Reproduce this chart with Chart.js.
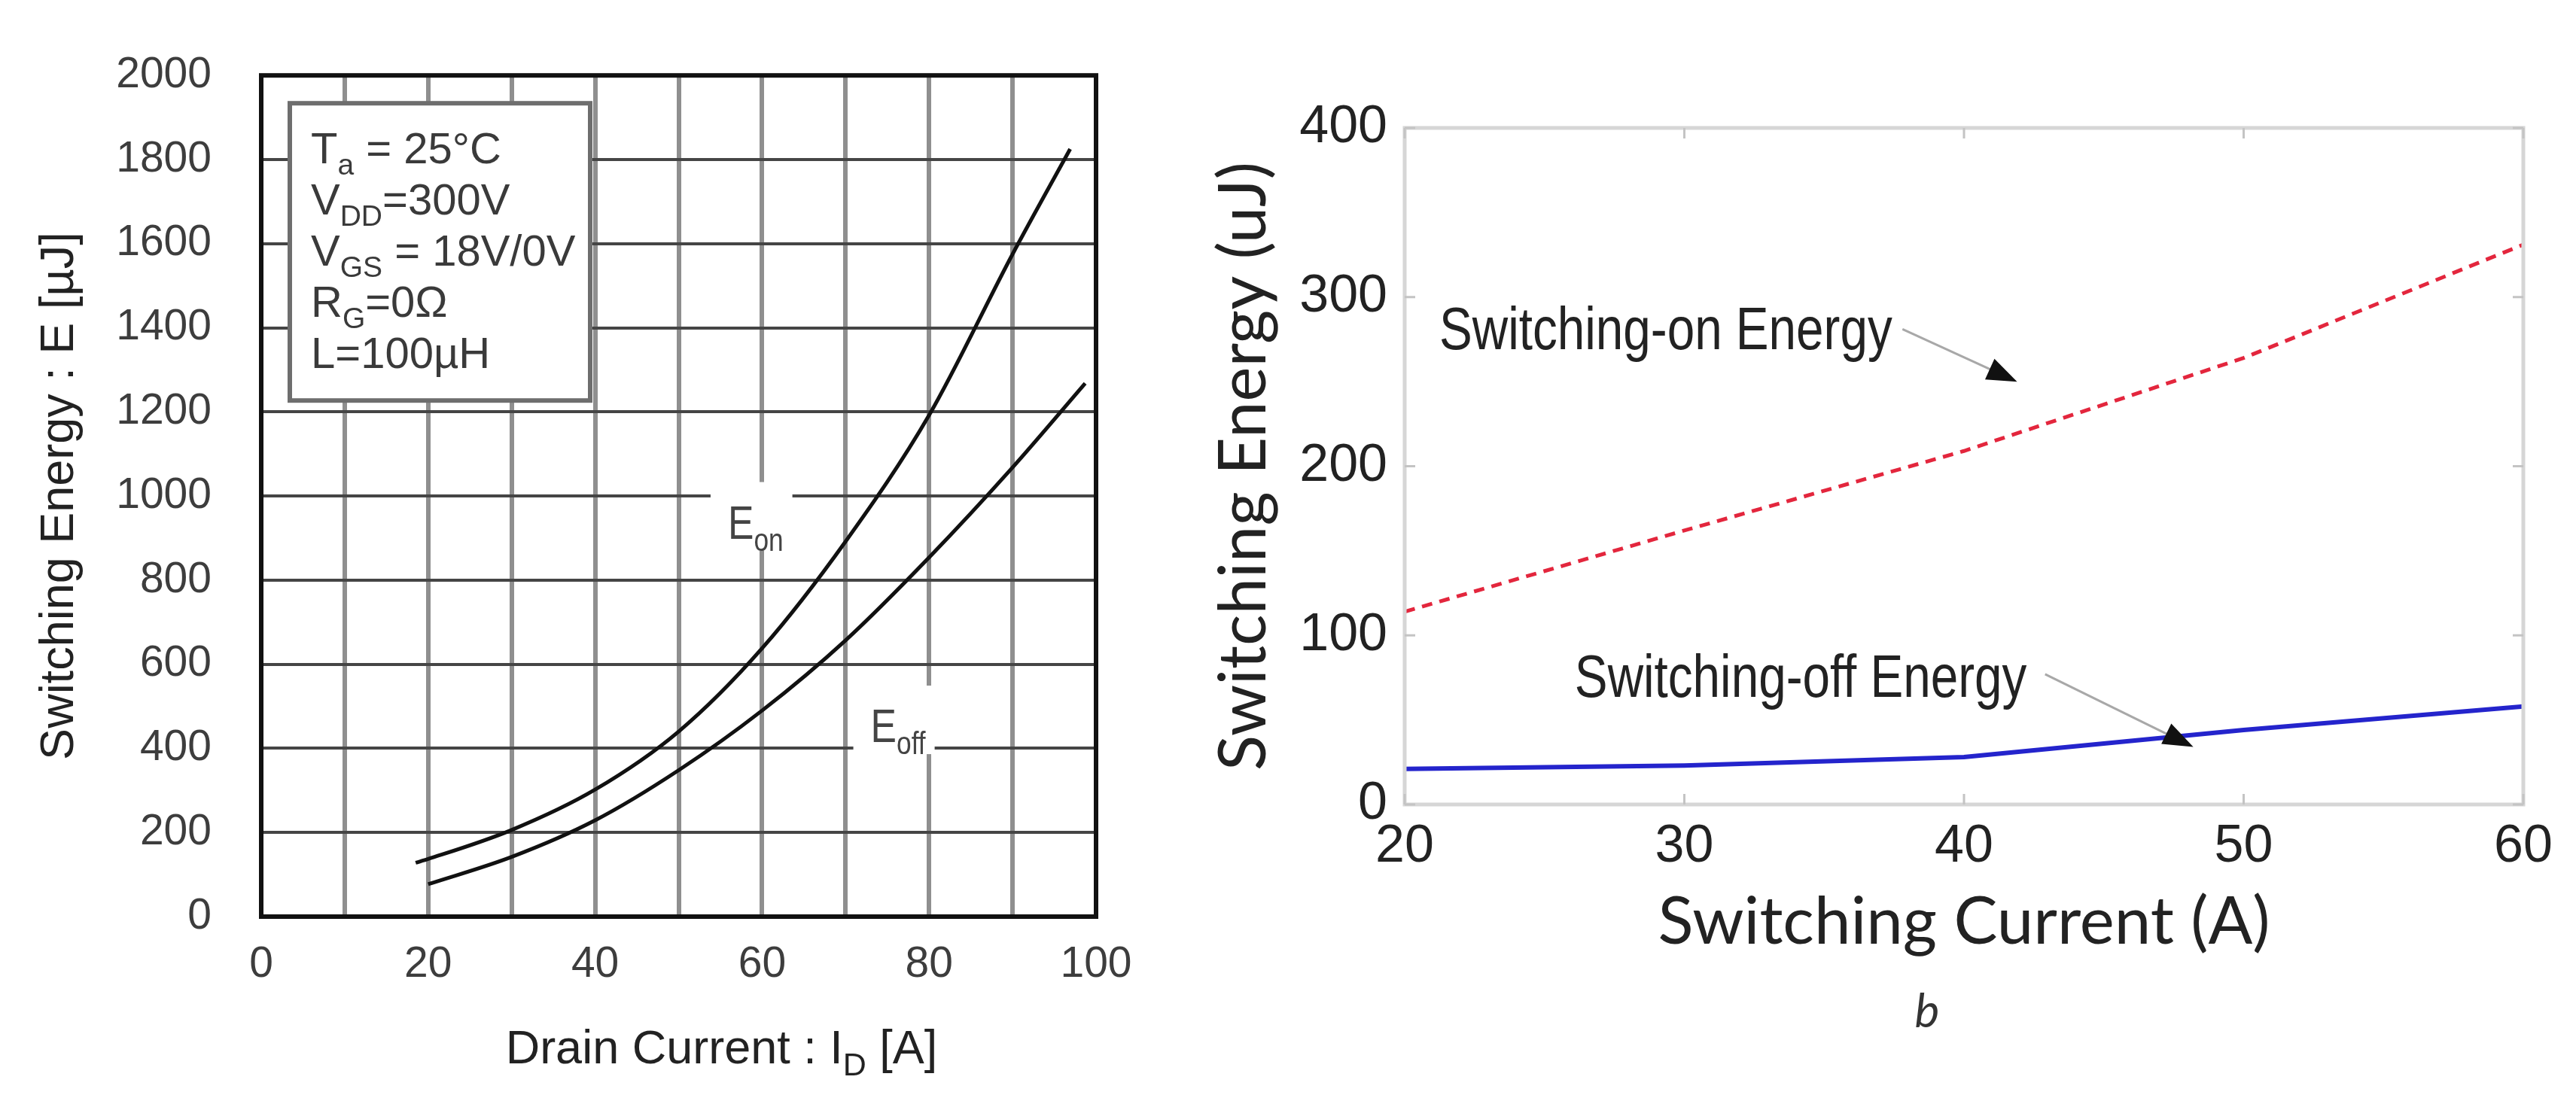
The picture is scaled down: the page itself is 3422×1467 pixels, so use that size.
<!DOCTYPE html>
<html>
<head>
<meta charset="utf-8">
<script src="https://cdn.jsdelivr.net/npm/chart.js@4.4.1/dist/chart.umd.min.js"></script>
<style>
  html, body { margin: 0; padding: 0; background: #fff; }
  body { width: 3422px; height: 1467px; position: relative; overflow: hidden; }
  .panel { position: absolute; top: 0; height: 1467px; }
  #leftPanel { left: 0; width: 1600px; }
  #rightPanel { left: 1560px; width: 1862px; }
</style>
</head>
<body>
<div class="panel" id="leftPanel"><canvas id="leftChart"></canvas></div>
<div class="panel" id="rightPanel"><canvas id="rightChart"></canvas></div>
<script>
'use strict';

// left panel - datasheet curves (Drain current vs switching energy)
var onCurrent = [18.5, 20, 30, 40, 50, 60, 70, 80, 90, 96.9];
var onEnergy = [128, 137, 206, 302, 440, 638, 892, 1192, 1575, 1825];
var offCurrent = [20, 30, 40, 50, 60, 70, 80, 90, 98.7];
var offEnergy = [77, 142, 229, 348, 490, 657, 854, 1068, 1268];
var leftXTicks = [0, 20, 40, 60, 80, 100];
var leftYTicks = [0, 200, 400, 600, 800, 1000, 1200, 1400, 1600, 1800, 2000];

// right panel - simulated switching energy
var switchCurrent = [20, 30, 40, 50, 60];
var switchOnEnergy = [114, 162, 209, 264, 331];
var switchOffEnergy = [21, 23, 28, 44, 58];
var rightXTicks = [20, 30, 40, 50, 60];
var rightYTicks = [0, 100, 200, 300, 400];

var SANS = "'Liberation Sans', Arial, sans-serif";
var HUMAN = "Lato, 'Open Sans', sans-serif";

function toPoints(xs, ys) {
    return xs.map(function(x, i) { return {x: x, y: ys[i]}; });
}

// text with subscripts: parts = [[text, isSub], ...]
function richWidth(ctx, parts, size, family) {
    var w = 0;
    parts.forEach(function(p) {
        ctx.font = (p[1] ? Math.round(size * 0.68) : size) + 'px ' + family;
        w += ctx.measureText(p[0]).width;
    });
    return w;
}
function richText(ctx, parts, x, y, size, family, color) {
    ctx.save();
    ctx.fillStyle = color;
    ctx.textAlign = 'left';
    ctx.textBaseline = 'alphabetic';
    var cx = x;
    parts.forEach(function(p) {
        var s = p[1] ? Math.round(size * 0.68) : size;
        ctx.font = s + 'px ' + family;
        ctx.fillText(p[0], cx, p[1] ? y + size * 0.26 : y);
        cx += ctx.measureText(p[0]).width;
    });
    ctx.restore();
    return cx - x;
}

var conditions = [
    [['T'], ['a', true], [' = 25°C']],
    [['V'], ['DD', true], ['=300V']],
    [['V'], ['GS', true], [' = 18V/0V']],
    [['R'], ['G', true], ['=0Ω']],
    [['L=100µH']]
];

var leftDecor = {
    id: 'leftDecor',
    beforeDatasetsDraw: function(chart) {
        var ctx = chart.ctx, ca = chart.chartArea;
        var xs = chart.scales.x, ys = chart.scales.y;

        // conditions box
        var bx = ca.left + 38, by = ca.top + 37, bw = 399, bh = 395;
        ctx.save();
        ctx.fillStyle = '#fff';
        ctx.fillRect(bx, by, bw, bh);
        ctx.strokeStyle = '#6e6e6e';
        ctx.lineWidth = 6;
        ctx.strokeRect(bx, by, bw, bh);
        ctx.restore();
        conditions.forEach(function(line, i) {
            richText(ctx, line, bx + 28, by + 80 + i * 68, 58, SANS, '#3a3a3a');
        });

        // curve labels (narrowed Arial look)
        var labels = [
            {parts: [['E'], ['on', true]], x: 55.9, y: 899},
            {parts: [['E'], ['off', true]], x: 73.0, y: 415}
        ];
        labels.forEach(function(l) {
            var px = xs.getPixelForValue(l.x), py = ys.getPixelForValue(l.y);
            var w = richWidth(ctx, l.parts, 63, SANS) * 0.82;
            ctx.save();
            ctx.fillStyle = '#fff';
            ctx.fillRect(px - 23, py - 75, w + 35, 91);
            ctx.translate(px, py);
            ctx.scale(0.82, 1);
            richText(ctx, l.parts, 0, 0, 63, SANS, '#444');
            ctx.restore();
        });
    },
    afterDatasetsDraw: function(chart) {
        var ctx = chart.ctx, ca = chart.chartArea;
        ctx.save();
        ctx.strokeStyle = '#111';
        ctx.lineWidth = 6;
        ctx.strokeRect(ca.left, ca.top, ca.right - ca.left, ca.bottom - ca.top);
        ctx.restore();

        // x axis title with subscript
        var parts = [['Drain Current : I'], ['D', true], [' [A]']];
        var w = richWidth(ctx, parts, 63, SANS);
        var cx = (ca.left + ca.right) / 2 + 57;
        richText(ctx, parts, cx - w / 2, ca.bottom + 195, 63, SANS, '#222');
    }
};

var leftCtx = document.getElementById('leftChart').getContext('2d');
var leftChart = new Chart(leftCtx, {
    type: 'line',
    data: {
        datasets: [{
            label: 'Eon',
            data: toPoints(onCurrent, onEnergy),
            borderColor: '#111',
            borderWidth: 5,
            pointRadius: 0,
            cubicInterpolationMode: 'monotone',
            fill: false
        }, {
            label: 'Eoff',
            data: toPoints(offCurrent, offEnergy),
            borderColor: '#111',
            borderWidth: 5,
            pointRadius: 0,
            cubicInterpolationMode: 'monotone',
            fill: false
        }]
    },
    options: {
        responsive: true,
        maintainAspectRatio: false,
        animation: false,
        layout: { padding: { top: 70, right: 144, left: 0, bottom: 0 } },
        plugins: { legend: { display: false }, tooltip: { enabled: false } },
        scales: {
            x: {
                type: 'linear',
                min: 0,
                max: 100,
                border: { display: false },
                grid: { color: '#8f8f8f', lineWidth: 6, drawTicks: false },
                ticks: {
                    stepSize: 10,
                    autoSkip: false,
                    maxRotation: 0,
                    padding: 30,
                    color: '#3d3d3d',
                    font: { family: SANS, size: 57, lineHeight: 1.2 },
                    callback: function(v) { return leftXTicks.indexOf(v) >= 0 ? String(v) : ''; }
                },
                afterFit: function(scale) { scale.height = 249; }
            },
            y: {
                type: 'linear',
                min: 0,
                max: 2000,
                border: { display: false },
                grid: { color: '#454545', lineWidth: 4, drawTicks: false },
                ticks: {
                    stepSize: 200,
                    autoSkip: false,
                    padding: 66,
                    color: '#3d3d3d',
                    font: { family: SANS, size: 57 },
                    callback: function(v) { return leftYTicks.indexOf(v) >= 0 ? String(v) : ''; }
                },
                title: {
                    display: true,
                    text: 'Switching Energy : E [µJ]',
                    color: '#222',
                    font: { family: SANS, size: 63, lineHeight: 1 },
                    padding: { top: 48, bottom: 0 }
                },
                afterFit: function(scale) { scale.width = 347; }
            }
        }
    },
    plugins: [leftDecor]
});

// right panel helpers
var arrows = [
    {from: [37.8, 281], to: [41.9, 250]},
    {from: [42.9, 77], to: [48.2, 34]}
];
var notes = [
    {text: 'Switching-on Energy', x: 21.24, y: 269},
    {text: 'Switching-off Energy', x: 26.08, y: 63.6}
];

var rightDecor = {
    id: 'rightDecor',
    afterDatasetsDraw: function(chart) {
        var ctx = chart.ctx, ca = chart.chartArea;
        var xs = chart.scales.x, ys = chart.scales.y;

        // light box and inward ticks
        ctx.save();
        ctx.strokeStyle = '#d6d6d6';
        ctx.lineWidth = 5;
        ctx.strokeRect(ca.left, ca.top, ca.right - ca.left, ca.bottom - ca.top);
        ctx.strokeStyle = '#c4c4c4';
        ctx.lineWidth = 3;
        ctx.beginPath();
        rightXTicks.forEach(function(v) {
            var px = xs.getPixelForValue(v);
            ctx.moveTo(px, ca.bottom); ctx.lineTo(px, ca.bottom - 14);
            ctx.moveTo(px, ca.top); ctx.lineTo(px, ca.top + 14);
        });
        rightYTicks.forEach(function(v) {
            var py = ys.getPixelForValue(v);
            ctx.moveTo(ca.left, py); ctx.lineTo(ca.left + 14, py);
            ctx.moveTo(ca.right, py); ctx.lineTo(ca.right - 14, py);
        });
        ctx.stroke();
        ctx.restore();

        // annotations, squeezed to look like a narrow face
        notes.forEach(function(n) {
            ctx.save();
            ctx.fillStyle = '#222';
            ctx.font = '80px ' + SANS;
            ctx.textBaseline = 'alphabetic';
            ctx.translate(xs.getPixelForValue(n.x), ys.getPixelForValue(n.y));
            ctx.scale(0.82, 1);
            ctx.fillText(n.text, 0, 0);
            ctx.restore();
        });
        ctx.save();
        arrows.forEach(function(a) {
            var x0 = xs.getPixelForValue(a.from[0]), y0 = ys.getPixelForValue(a.from[1]);
            var x1 = xs.getPixelForValue(a.to[0]), y1 = ys.getPixelForValue(a.to[1]);
            var ang = Math.atan2(y1 - y0, x1 - x0);
            ctx.strokeStyle = '#a8a8a8';
            ctx.lineWidth = 3;
            ctx.beginPath();
            ctx.moveTo(x0, y0);
            ctx.lineTo(x1 - 30 * Math.cos(ang), y1 - 30 * Math.sin(ang));
            ctx.stroke();
            ctx.fillStyle = '#111';
            ctx.beginPath();
            ctx.moveTo(x1, y1);
            ctx.lineTo(x1 - 40 * Math.cos(ang) + 15 * Math.sin(ang), y1 - 40 * Math.sin(ang) - 15 * Math.cos(ang));
            ctx.lineTo(x1 - 40 * Math.cos(ang) - 15 * Math.sin(ang), y1 - 40 * Math.sin(ang) + 15 * Math.cos(ang));
            ctx.closePath();
            ctx.fill();
        });

        // panel caption
        ctx.fillStyle = '#333';
        ctx.font = 'italic 62px ' + HUMAN;
        ctx.textAlign = 'center';
        ctx.fillText('b', (ca.left + ca.right) / 2 - 49, 1365);
        ctx.restore();
    }
};

var rightCtx = document.getElementById('rightChart').getContext('2d');
var rightChart = new Chart(rightCtx, {
    type: 'line',
    data: {
        datasets: [{
            label: 'Switching-on Energy',
            data: toPoints(switchCurrent, switchOnEnergy),
            borderColor: '#e3263d',
            borderWidth: 5,
            borderDash: [14, 10],
            pointRadius: 0,
            tension: 0,
            fill: false
        }, {
            label: 'Switching-off Energy',
            data: toPoints(switchCurrent, switchOffEnergy),
            borderColor: '#2424cc',
            borderWidth: 6,
            pointRadius: 0,
            tension: 0,
            fill: false
        }]
    },
    options: {
        responsive: true,
        maintainAspectRatio: false,
        animation: false,
        layout: { padding: { top: 170, right: 70, left: 0, bottom: 0 } },
        plugins: { legend: { display: false }, tooltip: { enabled: false } },
        scales: {
            x: {
                type: 'linear',
                min: 20,
                max: 60,
                border: { display: false },
                grid: { display: false },
                ticks: {
                    stepSize: 10,
                    maxRotation: 0,
                    padding: 14,
                    color: '#222',
                    font: { family: SANS, size: 70, lineHeight: 1 },
                    callback: function(v) { return rightXTicks.indexOf(v) >= 0 ? String(v) : ''; }
                },
                title: {
                    display: true,
                    text: 'Switching Current (A)',
                    color: '#222',
                    font: { family: HUMAN, size: 87, lineHeight: 1 },
                    padding: { top: 0, bottom: 198 }
                },
                afterFit: function(scale) { scale.height = 398; }
            },
            y: {
                type: 'linear',
                min: 0,
                max: 400,
                border: { display: false },
                grid: { display: false },
                ticks: {
                    stepSize: 100,
                    padding: 15,
                    color: '#222',
                    font: { family: SANS, size: 70, lineHeight: 1 },
                    callback: function(v) { return rightYTicks.indexOf(v) >= 0 ? String(v) : ''; }
                },
                title: {
                    display: true,
                    text: 'Switching Energy (uJ)',
                    color: '#222',
                    font: { family: HUMAN, size: 87, lineHeight: 1 },
                    padding: { top: 49, bottom: 0 }
                },
                afterFit: function(scale) { scale.width = 306; }
            }
        }
    },
    plugins: [rightDecor]
});
</script>
</body>
</html>
